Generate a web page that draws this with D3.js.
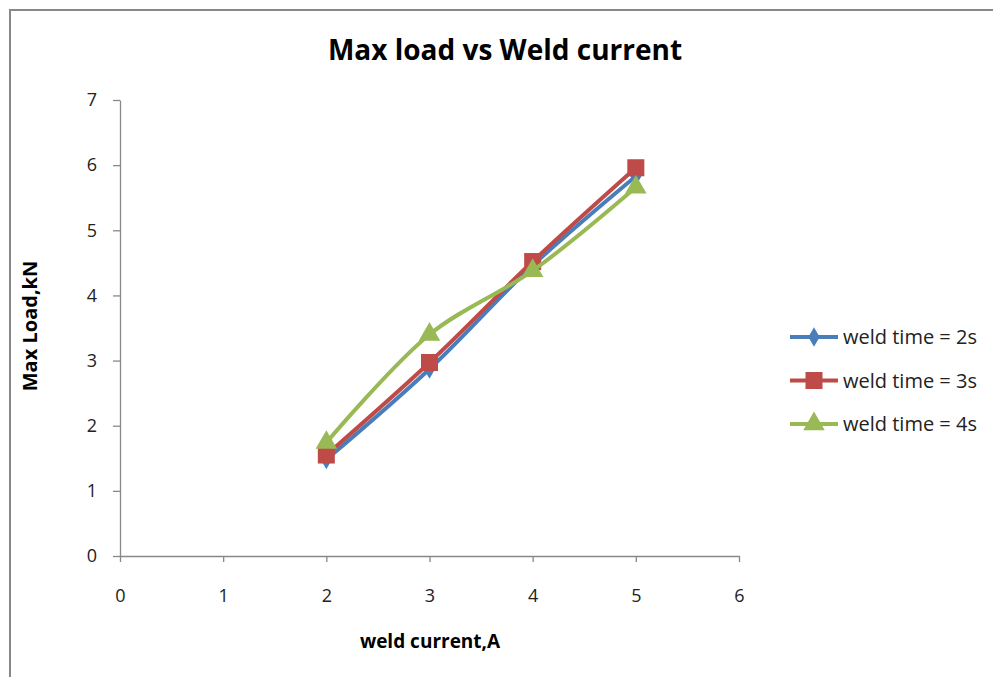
<!DOCTYPE html>
<html lang="en">
<head>
  <meta charset="UTF-8">
  <title>Max load vs Weld current</title>
  <style>
    body, html {
        margin: 0;
        padding: 0;
        background-color: #fff;
    }
    svg { display: block; }
  </style>
</head>
<body>
<svg id="chart" width="993" height="677"></svg>
<script src="https://d3js.org/d3.v7.min.js"></script>
<script>
// data
var currents = [2, 3, 4, 5];
var weld2s = [1.48, 2.87, 4.46, 5.83];
var weld3s = [1.55, 2.97, 4.52, 5.96];
var weld4s = [1.74, 3.4, 4.38, 5.66];
var seriesNames = ["weld time = 2s", "weld time = 3s", "weld time = 4s"];
var xTicks = [0, 1, 2, 3, 4, 5, 6];
var yTicks = [0, 1, 2, 3, 4, 5, 6, 7];

var font = "Open Sans";
var svg = d3.select("#chart");

var x = d3.scaleLinear().domain([0, 6]).range([120, 739]);
var y = d3.scaleLinear().domain([0, 7]).range([556, 100]);

// outer chart border (runs off the right/bottom of the shot)
svg.append("rect")
  .attr("x", 10).attr("y", 10)
  .attr("width", 1000).attr("height", 700)
  .attr("fill", "none")
  .attr("stroke", "#888")
  .attr("stroke-width", 2);

svg.append("text")
  .attr("x", 505).attr("y", 60)
  .attr("text-anchor", "middle")
  .attr("font-family", font)
  .attr("font-weight", "bold")
  .attr("font-size", 28)
  .attr("fill", "#000")
  .text("Max load vs Weld current");

// axes
var xAxis = svg.append("g")
  .attr("transform", "translate(0," + y(0) + ")")
  .call(d3.axisBottom(x).tickValues(xTicks).tickFormat(d3.format("d"))
    .tickSize(6).tickSizeOuter(0).tickPadding(27));
var yAxis = svg.append("g")
  .attr("transform", "translate(" + x(0) + ",0)")
  .call(d3.axisLeft(y).tickValues(yTicks).tickFormat(d3.format("d"))
    .tickSize(7).tickSizeOuter(0).tickPadding(16));

[xAxis, yAxis].forEach(function (g) {
  g.selectAll("path, line").attr("stroke", "#888").attr("stroke-width", 1.3);
  g.selectAll("text")
    .attr("font-family", font)
    .attr("font-size", 18)
    .attr("fill", "#222");
});

svg.append("text")
  .attr("x", 430).attr("y", 648)
  .attr("text-anchor", "middle")
  .attr("font-family", font)
  .attr("font-weight", "bold")
  .attr("font-size", 19)
  .text("weld current,A");

svg.append("text")
  .attr("transform", "translate(37,326) rotate(-90)")
  .attr("text-anchor", "middle")
  .attr("font-family", font)
  .attr("font-weight", "bold")
  .attr("font-size", 20)
  .text("Max Load,kN");

var series = [
  { name: seriesNames[0], values: weld2s, color: "#4A7EBB", shape: "diamond" },
  { name: seriesNames[1], values: weld3s, color: "#BE4B48", shape: "square" },
  { name: seriesNames[2], values: weld4s, color: "#98B954", shape: "triangle" }
];

var symbols = {
  diamond: d3.symbol().type(d3.symbolDiamond).size(110),
  square: d3.symbol().type(d3.symbolSquare).size(290),
  triangle: d3.symbol().type(d3.symbolTriangle).size(200)
};

var line = d3.line()
  .x(function (d) { return x(d[0]); })
  .y(function (d) { return y(d[1]); })
  .curve(d3.curveCatmullRom.alpha(0.5));

series.forEach(function (s) {
  var pts = currents.map(function (c, i) { return [c, s.values[i]]; });
  svg.append("path")
    .datum(pts)
    .attr("d", line)
    .attr("fill", "none")
    .attr("stroke", s.color)
    .attr("stroke-width", 4)
    .attr("stroke-linejoin", "round");
  svg.selectAll(null)
    .data(pts)
    .enter().append("path")
    .attr("d", symbols[s.shape])
    .attr("transform", function (d) { return "translate(" + x(d[0]) + "," + y(d[1]) + ")"; })
    .attr("fill", s.color);
});

// legend
var legend = svg.append("g").attr("transform", "translate(790,337)");
series.forEach(function (s, i) {
  var g = legend.append("g").attr("transform", "translate(0," + (i * 43.5) + ")");
  g.append("line")
    .attr("x1", 0).attr("x2", 48)
    .attr("stroke", s.color).attr("stroke-width", 4);
  g.append("path")
    .attr("d", symbols[s.shape])
    .attr("transform", "translate(24,0)")
    .attr("fill", s.color);
  g.append("text")
    .attr("x", 53).attr("y", 7)
    .attr("font-family", font)
    .attr("font-size", 20)
    .attr("fill", "#222")
    .text(s.name);
});
</script>
</body>
</html>
